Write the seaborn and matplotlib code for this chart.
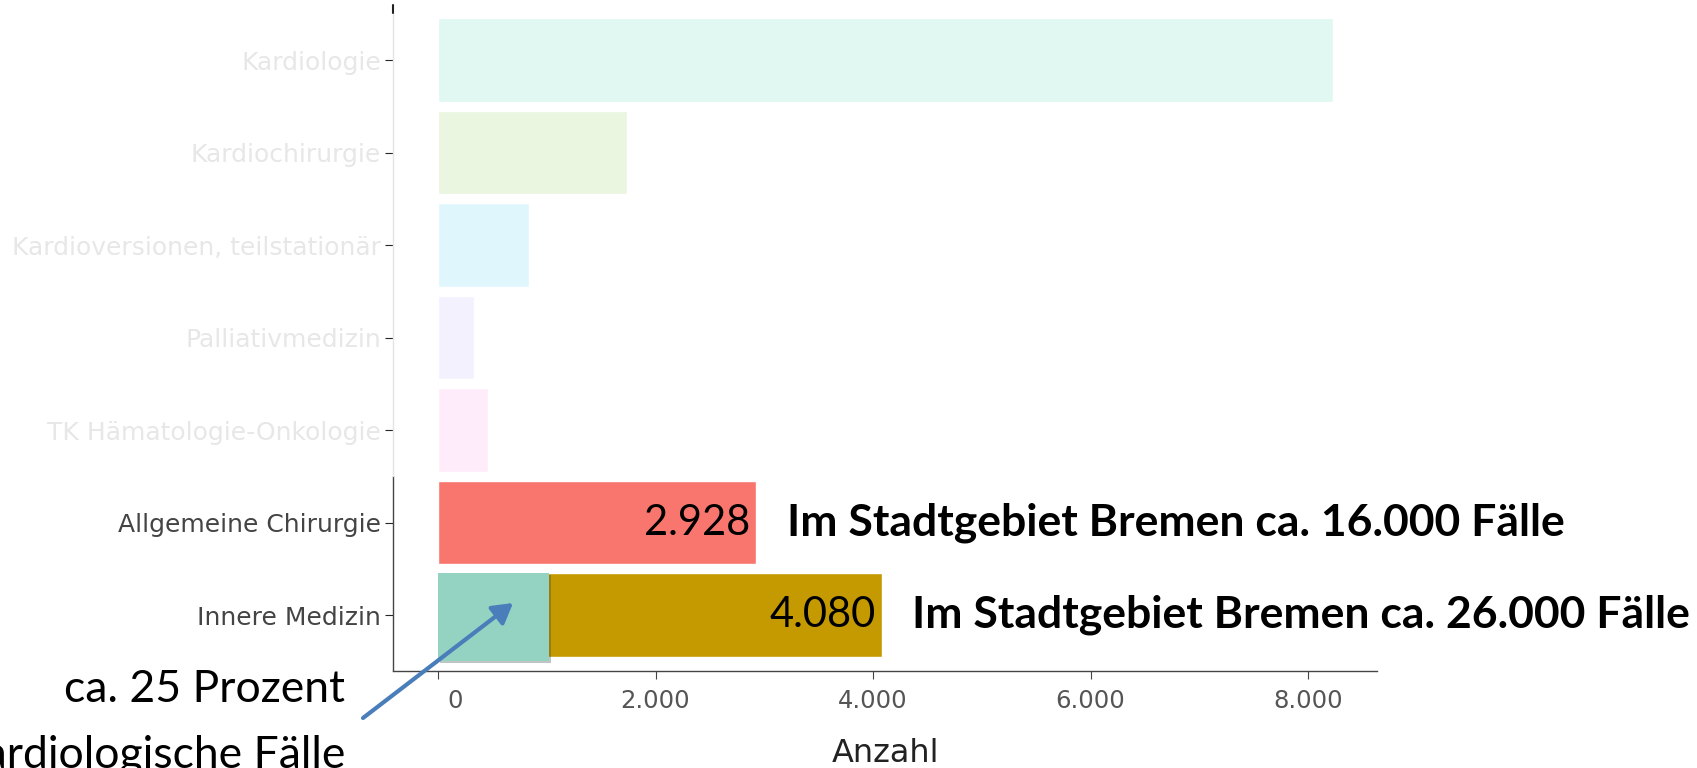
import numpy as np
import pandas as pd
import matplotlib
matplotlib.use("Agg")
import matplotlib.pyplot as plt
import matplotlib.patheffects as pe
from matplotlib.colors import to_rgb
from matplotlib.transforms import ScaledTranslation
import seaborn as sns

# Daten
fachabteilungen = [
    "Kardiologie",
    "Kardiochirurgie",
    "Kardioversionen, teilstationär",
    "Palliativmedizin",
    "TK Hämatologie-Onkologie",
    "Allgemeine Chirurgie",
    "Innere Medizin",
]
anzahl = [8230, 1740, 840, 330, 460, 2928, 4080]
basisfarben = ["#00C094", "#53B400", "#00B6EB", "#A58AFF", "#FB61D7", "#F8766D", "#C49A00"]
hervorgehoben = [False, False, False, False, False, True, True]
kardio_anteil = 1020  # ca. 25 Prozent der Inneren Medizin
bremen_texte = {
    "Allgemeine Chirurgie": "Im Stadtgebiet Bremen ca. 16.000 Fälle",
    "Innere Medizin": "Im Stadtgebiet Bremen ca. 26.000 Fälle",
}
x_ticks = [0, 2000, 4000, 6000, 8000]


def verblassen(farbe, alpha=0.12):
    r = np.array(to_rgb(farbe))
    return tuple(1 - alpha * (1 - r))


def de_format(v):
    return f"{v:,}".replace(",", ".")


sns.set_theme(style="white")
plt.rcParams["font.family"] = ["DejaVu Sans"]

farben = [c if h else verblassen(c) for c, h in zip(basisfarben, hervorgehoben)]
df = pd.DataFrame({"Fachabteilung": fachabteilungen, "Anzahl": anzahl})

W, H = 1697, 768
fig = plt.figure(figsize=(W / 100, H / 100), dpi=100)
ax = fig.add_axes([393 / W, 1 - 671 / H, (1377 - 393) / W, (671 - 5) / H])

sns.barplot(data=df, x="Anzahl", y="Fachabteilung", hue="Fachabteilung",
            order=fachabteilungen, hue_order=fachabteilungen, palette=farben,
            saturation=1, width=0.9, legend=False, ax=ax)

# Kardiologischer Anteil in der Inneren Medizin
i_inn = fachabteilungen.index("Innere Medizin")
ax.barh(i_inn + 0.02, kardio_anteil, height=0.95, color="#94D3C2", linewidth=0, zorder=3,
        path_effects=[pe.SimplePatchShadow(offset=(1.5, -1.5), alpha=0.3), pe.Normal()])

xmin, xmax = -414, 8634
ax.set_xlim(xmin, xmax)
ax.set_ylim(6.605, -0.595)

ax.set_xticks(x_ticks)
ax.set_xticklabels([de_format(v) for v in x_ticks])
ax.tick_params(axis="x", bottom=True, length=5.8, width=0.8, color="#444444",
               labelsize=17.5, labelcolor="#555555", pad=7)
ax.tick_params(axis="y", left=True, length=5.8, width=0.8, labelsize=18, pad=3)
lbl0 = ax.get_xticklabels()[0]
lbl0.set_transform(lbl0.get_transform() + ScaledTranslation(0.17, 0, fig.dpi_scale_trans))

for tick, h in zip(ax.yaxis.get_major_ticks(), hervorgehoben):
    col = "#444444" if h else verblassen("#444444", 0.13)
    tick.label1.set_color(col)
    tick.tick1line.set_color(col)

ax.set_ylabel("")
ax.set_xlabel("Anzahl", fontsize=23, color="#222222", va="center")
ax.xaxis.set_label_coords(0.5, -(753 - 671) / 666)

for s in ["top", "right", "left"]:
    ax.spines[s].set_visible(False)
ax.spines["bottom"].set_color("#444444")
ax.spines["bottom"].set_linewidth(1.0)

# y-Achse: oben verblasst, unten dunkel
grenze = (6.605 - 4.5) / 7.2
ax.axvline(xmin, 0, grenze, color="#444444", lw=1.0, clip_on=False)
ax.axvline(xmin, grenze, 0.988, color="#e4e4e4", lw=1.0, clip_on=False)
ax.axvline(xmin, 0.988, 1, color="#222222", lw=1.5, clip_on=False)

# Wertebeschriftungen und Hinweise
for name, text in bremen_texte.items():
    i = fachabteilungen.index(name)
    v = anzahl[i]
    ax.annotate(de_format(v), xy=(v, i), xytext=(-4.5, 0), textcoords="offset points",
                ha="right", va="center", fontsize=30, family="Lato", color="black",
                zorder=5)
    ax.annotate(text, xy=(v, i), xytext=(22, 0), textcoords="offset points",
                ha="left", va="center", fontsize=32, family="Lato",
                fontweight="bold", color="black", annotation_clip=False)

fig.text(345 / W, 1 - 690 / H, "ca. 25 Prozent", ha="right", va="center",
         fontsize=32, family="Lato", color="black")
fig.text(345 / W, 1 - 755 / H, "kardiologische Fälle", ha="right", va="center",
         fontsize=32, family="Lato", color="black")

ax.annotate("", xy=(690, i_inn - 0.13), xytext=(363, H - 718), textcoords="figure pixels",
            arrowprops=dict(arrowstyle="-|>,head_length=0.6,head_width=0.35",
                            color="#4A7EBB", lw=3, mutation_scale=20,
                            shrinkA=0, shrinkB=0),
            annotation_clip=False, zorder=6)

fig.savefig("out.png", dpi=100)
